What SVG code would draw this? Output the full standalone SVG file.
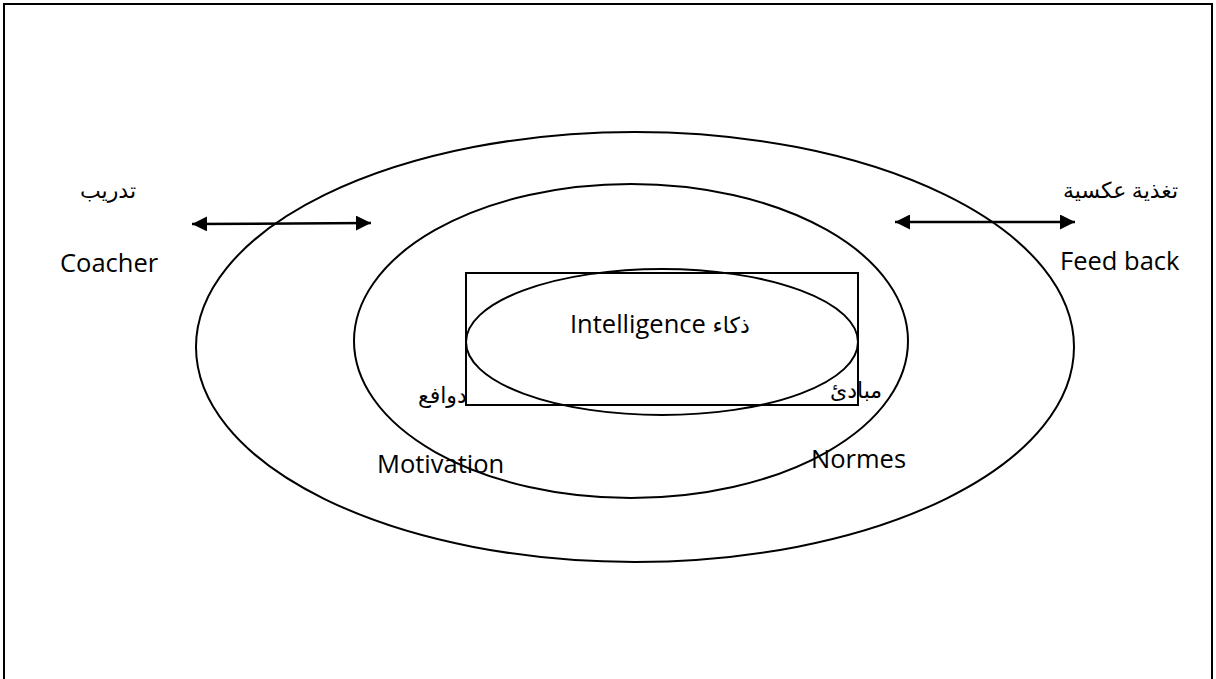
<svg xmlns="http://www.w3.org/2000/svg" width="1216" height="679" viewBox="0 0 1216 679">
<style>
.s{fill:none;stroke:#000;stroke-width:2}
.t{font-family:"Open Sans","Liberation Sans",sans-serif;font-size:25.5px;fill:#000}
.a{font-family:"Liberation Serif","DejaVu Sans",serif;font-size:22px;fill:#000}
.c{stroke:#000;stroke-width:2.5;fill:none}
</style>
<defs>
<marker id="ah" viewBox="0 0 10 10" refX="10" refY="5" markerWidth="6" markerHeight="6" orient="auto-start-reverse" markerUnits="strokeWidth">
<path d="M0,0 L10,5 L0,10 z" fill="#000"/>
</marker>
</defs>
<rect width="1216" height="679" fill="#fff"/>
<g id="frame"><path class="s" d="M4,679 V4 H1212 V679"/></g>
<g id="outer"><ellipse class="s" cx="635" cy="347" rx="439" ry="215"/></g>
<g id="middle"><ellipse class="s" cx="631" cy="341" rx="277" ry="157"/></g>
<g id="box"><rect class="s" x="466" y="273" width="392" height="132"/></g>
<g id="inner"><ellipse class="s" cx="662" cy="342" rx="196" ry="73"/>
<text class="t" x="570" y="333">Intelligence <tspan class="a" font-size="22px">ذكاء</tspan></text></g>
<g id="connectors">
<line class="c" x1="192" y1="224" x2="371" y2="223" marker-start="url(#ah)" marker-end="url(#ah)"/>
<line class="c" x1="895" y1="222" x2="1075" y2="222" marker-start="url(#ah)" marker-end="url(#ah)"/>
</g>
<g id="labels">
<text class="a" x="80" y="198">تدريب</text>
<text class="t" x="60" y="272">Coacher</text>
<text class="a" x="1063" y="198">تغذية عكسية</text>
<text class="t" x="1060" y="270">Feed back</text>
<text class="a" x="418" y="403" font-size="20px">دوافع</text>
<text class="t" x="377" y="473">Motivation</text>
<text class="a" x="830" y="398" font-size="20px">مبادئ</text>
<text class="t" x="811" y="468">Normes</text>
</g>
</svg>
